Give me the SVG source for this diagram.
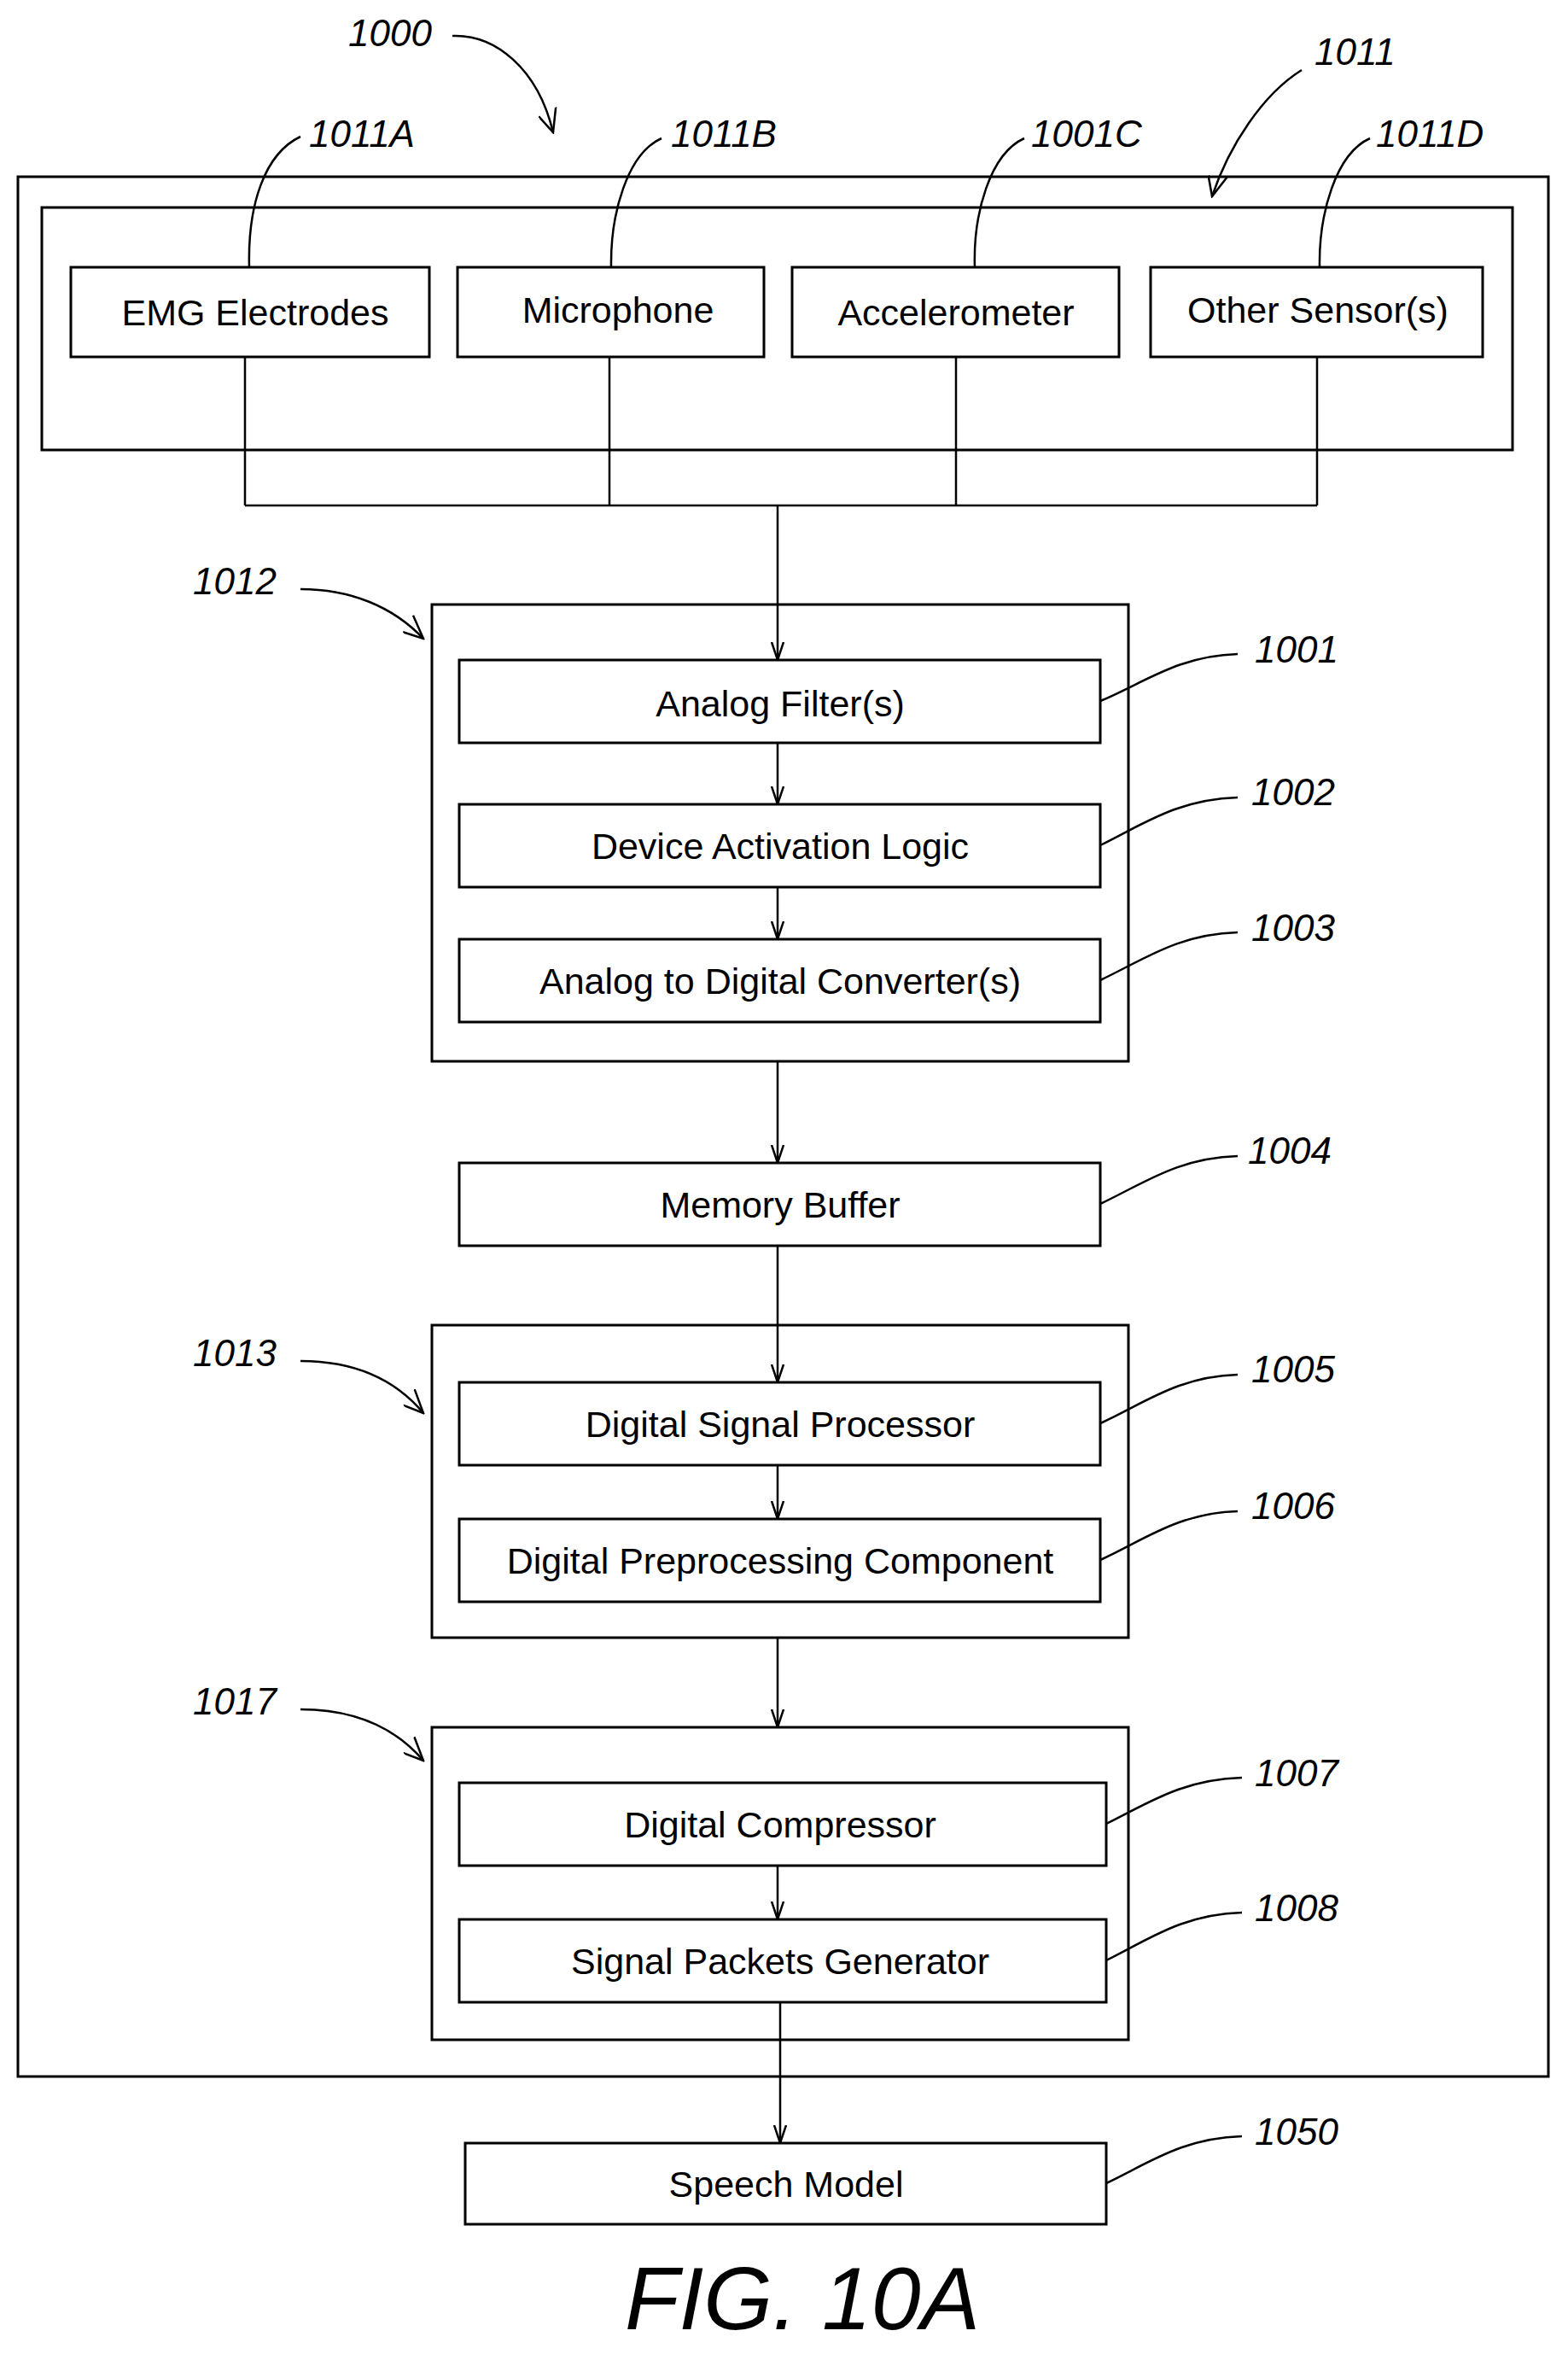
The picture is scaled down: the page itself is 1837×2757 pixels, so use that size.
<svg xmlns="http://www.w3.org/2000/svg" width="1837" height="2757" viewBox="0 0 1837 2757">
<defs>
<marker id="a" markerWidth="22" markerHeight="16" refX="21" refY="8" orient="auto" markerUnits="userSpaceOnUse" viewBox="0 0 22 16"><path d="M0,1 L21,8 L0,15" fill="none" stroke="#000" stroke-width="2.5"/></marker>
<marker id="b" markerWidth="30" markerHeight="24" refX="28" refY="12" orient="auto" markerUnits="userSpaceOnUse" viewBox="0 0 30 24"><path d="M0,2 L28,12 L6,24" fill="none" stroke="#000" stroke-width="2.5"/></marker>
</defs>
<style>
rect{fill:#fff;stroke:#000;stroke-width:3}
.t{font-family:"Liberation Sans",Arial,sans-serif;font-size:43px;text-anchor:middle;fill:#000}
.r{font-family:"Liberation Sans",Arial,sans-serif;font-size:44px;font-style:italic;fill:#000}
.l{fill:none;stroke:#000;stroke-width:2.5}
</style>
<rect width="1837" height="2757" style="fill:#fff;stroke:none"/>
<g id="outer"><rect x="21" y="207" width="1793" height="2225"/></g>
<g id="sensors"><rect x="49" y="243" width="1723" height="284"/></g>
<g id="n1011A"><rect x="83" y="313" width="420" height="105"/><text class="t" x="299" y="381">EMG Electrodes</text></g>
<g id="n1011B"><rect x="536" y="313" width="359" height="105"/><text class="t" x="724" y="378">Microphone</text></g>
<g id="n1001C"><rect x="928" y="313" width="383" height="105"/><text class="t" x="1120" y="381">Accelerometer</text></g>
<g id="n1011D"><rect x="1348" y="313" width="389" height="105"/><text class="t" x="1544" y="378">Other Sensor(s)</text></g>
<g id="n1012"><rect x="506" y="708" width="816" height="535"/></g>
<g id="n1001"><rect x="538" y="773" width="751" height="97"/><text class="t" x="914" y="839">Analog Filter(s)</text></g>
<g id="n1002"><rect x="538" y="942" width="751" height="97"/><text class="t" x="914" y="1006">Device Activation Logic</text></g>
<g id="n1003"><rect x="538" y="1100" width="751" height="97"/><text class="t" x="914" y="1164">Analog to Digital Converter(s)</text></g>
<g id="n1004"><rect x="538" y="1362" width="751" height="97"/><text class="t" x="914" y="1426">Memory Buffer</text></g>
<g id="n1013"><rect x="506" y="1552" width="816" height="366"/></g>
<g id="n1005"><rect x="538" y="1619" width="751" height="97"/><text class="t" x="914" y="1683">Digital Signal Processor</text></g>
<g id="n1006"><rect x="538" y="1779" width="751" height="97"/><text class="t" x="914" y="1843">Digital Preprocessing Component</text></g>
<g id="n1017"><rect x="506" y="2023" width="816" height="366"/></g>
<g id="n1007"><rect x="538" y="2088" width="758" height="97"/><text class="t" x="914" y="2152">Digital Compressor</text></g>
<g id="n1008"><rect x="538" y="2248" width="758" height="97"/><text class="t" x="914" y="2312">Signal Packets Generator</text></g>
<g id="n1050"><rect x="545" y="2510" width="751" height="95"/><text class="t" x="921" y="2573">Speech Model</text></g>
<g id="connectors">
<path class="l" d="M287,418V592M714,418V592M1120,418V592M1543,418V592M287,592H1543"/>
<path class="l" d="M911,592V773" marker-end="url(#a)"/>
<path class="l" d="M911,870V942" marker-end="url(#a)"/>
<path class="l" d="M911,1039V1100" marker-end="url(#a)"/>
<path class="l" d="M911,1243V1362" marker-end="url(#a)"/>
<path class="l" d="M911,1459V1619" marker-end="url(#a)"/>
<path class="l" d="M911,1716V1779" marker-end="url(#a)"/>
<path class="l" d="M911,1918V2023" marker-end="url(#a)"/>
<path class="l" d="M911,2185V2248" marker-end="url(#a)"/>
<path class="l" d="M914,2345V2510" marker-end="url(#a)"/>
</g>
<g id="refs">
<text class="r" x="408" y="54">1000</text>
<path class="l" d="M530,42 C580,40 630,80 648,155" marker-end="url(#b)"/>
<text class="r" x="1540" y="76">1011</text>
<path class="l" d="M1525,82 C1480,110 1440,170 1420,230" marker-end="url(#b)"/>
<text class="r" x="362" y="172">1011A</text>
<path class="l" d="M352,160 C310,180 290,240 292,313"/>
<text class="r" x="786" y="172">1011B</text>
<path class="l" d="M775,162 C735,180 715,250 716,313"/>
<text class="r" x="1208" y="172">1001C</text>
<path class="l" d="M1200,162 C1160,180 1140,250 1142,313"/>
<text class="r" x="1612" y="172">1011D</text>
<path class="l" d="M1605,162 C1565,180 1545,250 1546,313"/>
<text class="r" x="226" y="696">1012</text>
<path class="l" d="M352,690 C410,690 460,710 496,748" marker-end="url(#b)"/>
<text class="r" x="226" y="1600">1013</text>
<path class="l" d="M352,1594 C410,1594 460,1612 496,1655" marker-end="url(#b)"/>
<text class="r" x="226" y="2008">1017</text>
<path class="l" d="M352,2002 C410,2002 460,2020 496,2062" marker-end="url(#b)"/>
<text class="r" x="1470" y="776">1001</text>
<path class="l" d="M1289,821 C1340,800 1380,768 1450,766"/>
<text class="r" x="1466" y="943">1002</text>
<path class="l" d="M1289,990 C1340,965 1380,936 1450,934"/>
<text class="r" x="1466" y="1102">1003</text>
<path class="l" d="M1289,1148 C1340,1124 1380,1094 1450,1092"/>
<text class="r" x="1462" y="1363">1004</text>
<path class="l" d="M1289,1410 C1340,1386 1380,1356 1450,1354"/>
<text class="r" x="1466" y="1619">1005</text>
<path class="l" d="M1289,1667 C1340,1644 1380,1612 1450,1610"/>
<text class="r" x="1466" y="1779">1006</text>
<path class="l" d="M1289,1827 C1340,1804 1380,1772 1450,1770"/>
<text class="r" x="1470" y="2092">1007</text>
<path class="l" d="M1296,2136 C1345,2112 1385,2084 1455,2082"/>
<text class="r" x="1470" y="2250">1008</text>
<path class="l" d="M1296,2296 C1345,2272 1385,2242 1455,2240"/>
<text class="r" x="1470" y="2512">1050</text>
<path class="l" d="M1296,2557 C1345,2534 1385,2504 1455,2502"/>
</g>
<text x="940" y="2728" style="font-family:'Liberation Sans',Arial,sans-serif;font-size:104px;font-style:italic;text-anchor:middle">FIG.  10A</text>
</svg>
